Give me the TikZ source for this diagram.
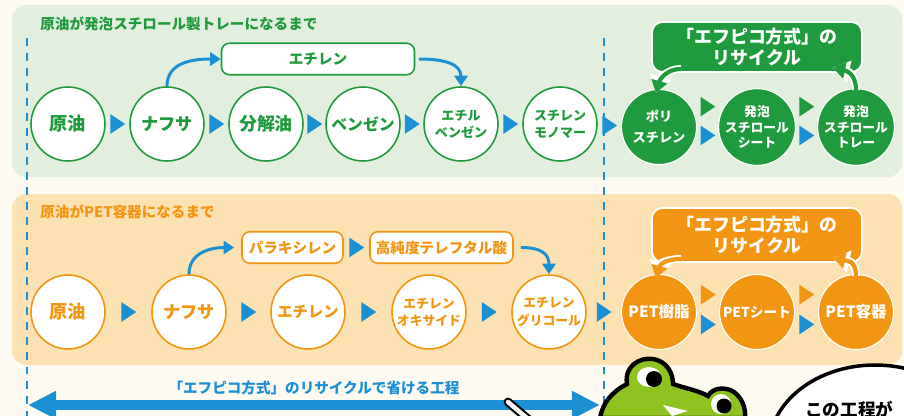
\documentclass[tikz,border=0pt]{standalone}
\usepackage{fontspec}
\setmainfont{Noto Sans CJK JP}
\usetikzlibrary{arrows.meta,calc}

\definecolor{cream}{HTML}{FDFAF1}
\definecolor{leaf}{HTML}{E2EFDF}
\definecolor{pine}{HTML}{1F9A3C}
\definecolor{peach}{HTML}{FCE1B2}
\definecolor{amber}{HTML}{F29512}
\definecolor{sky}{HTML}{1C90D4}
\definecolor{frog}{HTML}{8DC21F}

\tikzset{
  flowtri/.pic={\path[pic actions] (-4pt,-5.6pt) -- (4.4pt,0pt) -- (-4pt,5.6pt) -- cycle;}
}

\begin{document}
\begin{tikzpicture}[x=0.02cm, y=-0.02cm,
  fs/.style 2 args={font=\bfseries\fontsize{#1}{#2}\selectfont},
  ring/.style={circle, draw=#1, line width=0.9pt, fill=white, text=#1,
    minimum size=1.48cm, inner sep=0pt, align=center},
  dot/.style={circle, fill=#1, draw=white, line width=0.6pt, text=white,
    minimum size=1.5cm, inner sep=0pt, align=center},
  tag/.style={rounded corners=4.5pt, draw=#1, line width=0.9pt, fill=white,
    text=#1, minimum height=0.63cm, inner sep=0pt, fs={8.3}{10}},
  loopbox/.style={rounded corners=6pt, draw=white, line width=1pt, fill=#1,
    text=white, minimum width=4.2cm, inner sep=0pt, align=center, fs={10.2}{12}},
  bluecurve/.style={draw=sky, line width=1.7pt, -{Triangle[length=6pt,width=7.5pt]}},
  recycle/.style={draw=#1, line width=2.4pt, -{Triangle[length=7pt,width=9pt]},
    preaction={draw=white, line width=4.4pt, -{Triangle[length=9.5pt,width=12pt]}}}
]
\useasboundingbox (0,0) rectangle (904,416);
\fill[cream] (0,0) rectangle (904,416);

% two panels
\fill[leaf, rounded corners=8pt] (12,5) rectangle (902,177);
\fill[peach, rounded corners=8pt] (12,194) rectangle (902,365);

\node[anchor=west, inner sep=0pt, text=pine, fs={8.3}{10}] (title1) at (40,24)
  {原油が発泡スチロール製トレーになるまで};
\node[anchor=west, inner sep=0pt, text=amber, fs={8.3}{10}] (title2) at (40,212)
  {原油がPET容器になるまで};

% dashed guides
\draw[sky, line width=1.2pt, dash pattern=on 4.5pt off 4pt] (27,38) -- (27,416);
\draw[sky, line width=1.2pt, dash pattern=on 4.5pt off 4pt] (604,38) -- (604,416);

% --- polystyrene row
\node[ring=pine, fs={10.4}{12}] (oil1) at (68,124) {原油};
\node[ring=pine, fs={9.8}{12}] (naph1) at (167,124) {ナフサ};
\node[ring=pine, fs={10.2}{12}] (crack) at (266,124) {分解油};
\node[ring=pine, fs={9}{12}] (benz) at (363,124) {ベンゼン};
\node[ring=pine, fs={7.4}{9.8}] (ethb) at (461,124) {エチル\\ベンゼン};
\node[ring=pine, fs={7.4}{9.8}] (styr) at (560,124) {スチレン\\モノマー};
\node[dot=pine, fs={7.5}{12}] (ps) at (659,127) {ポリ\\スチレン};
\node[dot=pine, fs={7.3}{8.7}] (foam) at (757,127) {発泡\\スチロール\\シート};
\node[dot=pine, fs={7.3}{8.7}] (tray) at (856,127) {発泡\\スチロール\\トレー};

\node[tag=pine, minimum width=3.86cm] (ethy) at (318,59) {エチレン};
\node[loopbox=pine, minimum height=1.0cm] (gcyc) at (757,47) {「エフピコ方式」の\\リサイクル};

\path (oil1) -- pic[fill=sky] {flowtri} (naph1);
\path (naph1) -- pic[fill=sky] {flowtri} (crack);
\path (crack) -- pic[fill=sky] {flowtri} (benz);
\path (benz) -- pic[fill=sky] {flowtri} (ethb);
\path (ethb) -- pic[fill=sky] {flowtri} (styr);
\path (styr) -- pic[fill=sky] {flowtri} (ps);
\path (ps) -- pic[fill=pine, yshift=11.6pt] {flowtri} pic[fill=sky, yshift=-4.8pt] {flowtri} (foam);
\path (foam) -- pic[fill=pine, yshift=11.6pt] {flowtri} pic[fill=sky, yshift=-4.8pt] {flowtri} (tray);

\draw[bluecurve] (naph1.north) .. controls +(0,-24) and +(-28,0) .. (ethy.west);
\draw[bluecurve, shorten <=2pt] (ethy.east) .. controls +(30,0) and +(0,-22) .. (ethb.north);

\draw[recycle=pine] ($(gcyc.south west)+(30,-4)$) .. controls +(-14,0) and +(4,-14) .. ($(ps.north)+(-3,4)$);
\draw[recycle=pine] ($(tray.north)+(0,2)$) .. controls +(0,-16) and +(14,3) .. ($(gcyc.south east)+(-30,-5)$);

% --- PET row
\node[ring=amber, fs={10.4}{12}] (oil2) at (68,312) {原油};
\node[ring=amber, fs={9.8}{12}] (naph2) at (189,312) {ナフサ};
\node[ring=amber, fs={8.7}{12}] (ethy2) at (308,312) {エチレン};
\node[ring=amber, fs={7.3}{9.8}] (eo) at (429,312) {エチレン\\オキサイド};
\node[ring=amber, fs={7.3}{9.8}] (eg) at (549,312) {エチレン\\グリコール};
\node[dot=amber, fs={8.8}{12}] (pet) at (659,312) {PET樹脂};
\node[dot=amber, fs={7.8}{12}] (sheet) at (757,312) {PETシート};
\node[dot=amber, fs={8.8}{12}] (bottle) at (856,312) {PET容器};

\node[tag=amber, minimum width=2.02cm] (px) at (292.5,247.5) {パラキシレン};
\node[tag=amber, minimum width=2.86cm] (pta) at (441.5,247.5) {高純度テレフタル酸};
\node[loopbox=amber, minimum height=1.08cm] (ocyc) at (757,235) {「エフピコ方式」の\\リサイクル};

\path (oil2) -- pic[fill=sky] {flowtri} (naph2);
\path (naph2) -- pic[fill=sky] {flowtri} (ethy2);
\path (ethy2) -- pic[fill=sky] {flowtri} (eo);
\path (eo) -- pic[fill=sky] {flowtri} (eg);
\path (eg) -- pic[fill=sky] {flowtri} (pet);
\path (px) -- pic[fill=sky] {flowtri} (pta);
\path (pet) -- pic[fill=amber, yshift=9.9pt] {flowtri} pic[fill=sky, yshift=-7.1pt] {flowtri} (sheet);
\path (sheet) -- pic[fill=amber, yshift=9.9pt] {flowtri} pic[fill=sky, yshift=-7.1pt] {flowtri} (bottle);

\draw[bluecurve, shorten >=4pt] (naph2.north) .. controls +(0,-22) and +(-30,0) .. (px.west);
\draw[bluecurve, shorten <=4pt] (pta.east) .. controls +(28,0) and +(0,-20) .. (eg.north);

\draw[recycle=amber] ($(ocyc.south west)+(30,-4)$) .. controls +(-14,0) and +(4,-14) .. ($(pet.north)+(-3,4)$);
\draw[recycle=amber] ($(bottle.north)+(0,2)$) .. controls +(0,-16) and +(14,3) .. ($(ocyc.south east)+(-30,-5)$);

% --- skipped span
\coordinate (spanL) at (28,405);
\coordinate (spanR) at (600,405);
\draw[sky, line width=5.7pt, {Triangle[length=16pt,width=15pt]}-{Triangle[length=16pt,width=15pt]}] (spanL) -- (spanR);
\node[text=sky, fs={8.3}{10}] (spanlbl) at (314,388) {「エフピコ方式」のリサイクルで省ける工程};

% pointer
\draw[line width=5pt, line cap=round] (508,402) -- (535,425);
\draw[white, line width=2.6pt, line cap=round] (508,402) -- (535,425);

% frog
\draw[fill=frog, line width=2.5pt] (600,418) .. controls (603,402) and (612,392) .. (627,384)
  .. controls (624,366) and (640,357) .. (653,359)
  .. controls (666,361) and (673,372) .. (673,384)
  .. controls (684,388) and (697,390) .. (708,396)
  .. controls (712,388) and (725,386) .. (734,392)
  .. controls (742,398) and (746,408) .. (745,418) -- cycle;
\fill[white] (649,377) ellipse [x radius=12, y radius=10];
\fill (654,379) circle [radius=8];
\fill[white] (721,404) circle [radius=10];
\fill (724,406) circle [radius=7.5];
\fill[white] (663,405) -- (688,411) -- (672,416) -- cycle;

% speech bubble
\draw[line width=2pt, fill=white] (875,448) ellipse [x radius=106, y radius=83];
\node[anchor=north west, inner sep=0pt, fs={10}{12}] (say) at (805,401) {この工程が};
\end{tikzpicture}
\end{document}
